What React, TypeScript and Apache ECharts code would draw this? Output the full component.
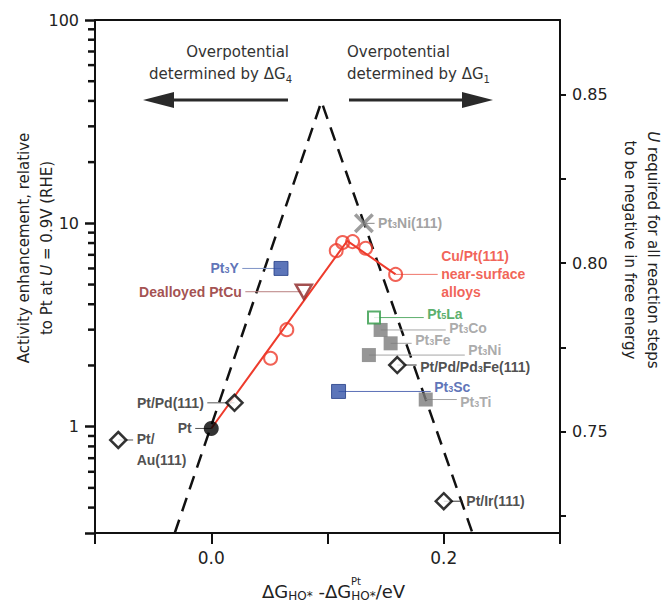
import React, { useEffect, useRef } from 'react';
import * as echarts from 'echarts';

const SANS = '"DejaVu Sans", Verdana, sans-serif';
const ARIAL = '"Liberation Sans", Arial, Helvetica, sans-serif';

// ---------- axes ----------
const xMin = -0.1;
const xMax = 0.3;
const xStep = 0.1;
const xLabelValues = [0.0, 0.2];
const actMin = 0.3;
const actMax = 100;
const actLabelValues = [1, 10, 100];
const actMinorValues = [0.4, 0.5, 0.6, 0.7, 0.8, 0.9, 2, 3, 4, 5, 6, 7, 8, 9, 20, 30, 40, 50, 60, 70, 80, 90];
const uMin = 0.72;
const uMax = 0.872;
const uTickValues = [0.725, 0.75, 0.775, 0.8, 0.825, 0.85];
const uLabelValues = [0.75, 0.8, 0.85];

// ---------- data ----------
const volcanoX = [-0.0314, 0.0948, 0.2247];
const volcanoY = [0.3, 39.7, 0.3];

const cuPtX = [0.051, 0.065, 0.1075, 0.113, 0.1216, 0.1328, 0.1586];
const cuPtY = [2.17, 3.0, 7.34, 8.04, 8.13, 7.54, 5.61];
const cuPtTrendX = [0.0, 0.117, 0.1586];
const cuPtTrendY = [0.98, 8.2, 5.61];

const ptNames = ['Pt'];
const ptX = [0.0];
const ptY = [0.98];

const monolayerNames = ['Pt/Pd(111)', 'Pt/Au(111)', 'Pt/Pd/Pd3Fe(111)', 'Pt/Ir(111)'];
const monolayerX = [0.02, -0.08, 0.16, 0.2];
const monolayerY = [1.31, 0.86, 2.01, 0.43];

const blueAlloyNames = ['Pt3Y', 'Pt3Sc'];
const blueAlloyX = [0.06, 0.1095];
const blueAlloyY = [6.0, 1.49];

const grayAlloyNames = ['Pt3Co', 'Pt3Fe', 'Pt3Ni', 'Pt3Ti'];
const grayAlloyX = [0.1457, 0.1543, 0.1356, 0.1845];
const grayAlloyY = [2.99, 2.57, 2.25, 1.36];

const laAlloyNames = ['Pt5La'];
const laAlloyX = [0.14];
const laAlloyY = [3.44];

const singleCrystalNames = ['Pt3Ni(111)'];
const singleCrystalX = [0.1313];
const singleCrystalY = [10.0];

const dealloyedNames = ['Dealloyed PtCu'];
const dealloyedX = [0.0796];
const dealloyedY = [4.61];

// ---------- annotation layout ----------
const BLACK = '#222222';
const BLUE = '#3550a6';
const GRAY = '#959595';
const RED = '#ee3b2c';
const GREEN = '#2f9a46';
const DARKRED = '#8c2424';

const annotations: any[] = [
  { name: 'Pt', side: 'left', to: -0.0138, text: '{b|Pt}', color: BLACK, line: '#555' },
  { name: 'Pt/Pd(111)', side: 'left', to: -0.0034, text: '{b|Pt/Pd(111)}', color: BLACK, line: '#555' },
  { name: 'Pt/Au(111)', side: 'right', to: -0.0672, text: '{b|Pt/}\n{b|Au(111)}', color: BLACK, line: '#555', offset: [0, 10], lh: 21 },
  { name: 'Pt/Pd/Pd3Fe(111)', side: 'right', to: 0.1767, text: '{b|Pt/Pd/Pd}{s|3}{b|Fe(111)}', color: BLACK, line: '#333', offset: [0, 2] },
  { name: 'Pt/Ir(111)', side: 'right', to: 0.2164, text: '{b|Pt/Ir(111)}', color: BLACK, line: '#333' },
  { name: 'Pt3Y', side: 'left', to: 0.0267, text: '{b|Pt}{s|3}{b|Y}', color: BLUE, line: '#7f93c6' },
  { name: 'Pt3Sc', side: 'right', to: 0.1888, text: '{b|Pt}{s|3}{b|Sc}', color: BLUE, line: '#5a6fb6', offset: [0, -4] },
  { name: 'Pt5La', side: 'right', to: 0.1828, text: '{b|Pt}{s|5}{b|La}', color: GREEN, line: '#5cae6c', offset: [0, -4] },
  { name: 'Pt3Co', side: 'right', to: 0.2017, text: '{b|Pt}{s|3}{b|Co}', color: GRAY, line: '#a5a5a5', offset: [0, -2] },
  { name: 'Pt3Fe', side: 'right', to: 0.1724, text: '{b|Pt}{s|3}{b|Fe}', color: GRAY, line: '#a5a5a5', offset: [0, -3] },
  { name: 'Pt3Ni', side: 'right', to: 0.2181, text: '{b|Pt}{s|3}{b|Ni}', color: GRAY, line: '#a5a5a5', offset: [0, -5] },
  { name: 'Pt3Ti', side: 'right', to: 0.2112, text: '{b|Pt}{s|3}{b|Ti}', color: GRAY, line: '#a5a5a5', offset: [0, 2] },
  { name: 'Pt3Ni(111)', side: 'right', to: 0.1405, text: '{b|Pt}{s|3}{b|Ni(111)}', color: '#8a8a8a', line: '#8a8a8a' },
  { name: 'Dealloyed PtCu', side: 'left', to: 0.0293, text: '{b|Dealloyed PtCu}', color: DARKRED, line: '#b98080' },
  { name: 'Cu/Pt(111)', side: 'right', to: 0.1948, text: '{b|Cu/Pt(111)}\n{b|near-surface}\n{b|alloys}', color: RED, line: '#f0766a', lh: 18 },
];

function zip(xs: number[], ys: number[]) {
  return xs.map((x, i) => [x, ys[i]]);
}

function buildLookup() {
  const m: Record<string, number[]> = {};
  const add = (names: string[], xs: number[], ys: number[]) =>
    names.forEach((n, i) => { m[n] = [xs[i], ys[i]]; });
  add(ptNames, ptX, ptY);
  add(monolayerNames, monolayerX, monolayerY);
  add(blueAlloyNames, blueAlloyX, blueAlloyY);
  add(grayAlloyNames, grayAlloyX, grayAlloyY);
  add(laAlloyNames, laAlloyX, laAlloyY);
  add(singleCrystalNames, singleCrystalX, singleCrystalY);
  add(dealloyedNames, dealloyedX, dealloyedY);
  m['Cu/Pt(111)'] = [cuPtX[cuPtX.length - 1], cuPtY[cuPtY.length - 1]];
  return m;
}

function richFor(color: string, lh: number) {
  return {
    b: { fontFamily: ARIAL, fontWeight: 'bold', fontSize: 14, color, lineHeight: lh },
    s: { fontFamily: ARIAL, fontWeight: 'bold', fontSize: 9, color, lineHeight: 6, verticalAlign: 'bottom' },
  };
}

const near = (v: number, list: number[]) => list.find((t) => Math.abs(v - t) < 1e-6);

const sub = (size: number) => ({ fontFamily: SANS, fontSize: size, fill: '#333', lineHeight: size, verticalAlign: 'bottom' });
const normal = (size: number, lh: number, color = '#333') => ({ fontFamily: SANS, fontSize: size, fill: color, lineHeight: lh });

function baseGraphic(): any[] {
  return [
    { id: 'op1', type: 'text', x: 289, y: 52, silent: true, style: { text: 'Overpotential', font: `15px ${SANS}`, fill: '#333', align: 'right', verticalAlign: 'middle' } },
    {
      id: 'dt4', type: 'text', x: 292, y: 74, silent: true,
      style: { text: '{n|determined by ΔG}{s|4}', rich: { n: normal(15, 20), s: sub(10) }, align: 'right', verticalAlign: 'middle' },
    },
    { id: 'op2', type: 'text', x: 347, y: 52, silent: true, style: { text: 'Overpotential', font: `15px ${SANS}`, fill: '#333', align: 'left', verticalAlign: 'middle' } },
    {
      id: 'dt1', type: 'text', x: 347, y: 74, silent: true,
      style: { text: '{n|determined by ΔG}{s|1}', rich: { n: normal(15, 20), s: sub(10) }, align: 'left', verticalAlign: 'middle' },
    },
    { id: 'al', type: 'line', silent: true, shape: { x1: 288, y1: 100, x2: 168, y2: 100 }, style: { stroke: '#2a2a2a', lineWidth: 3 } },
    { id: 'ah', type: 'polygon', silent: true, shape: { points: [[143, 100], [174, 92], [174, 108]] }, style: { fill: '#2a2a2a' } },
    { id: 'bl', type: 'line', silent: true, shape: { x1: 349, y1: 100, x2: 468, y2: 100 }, style: { stroke: '#2a2a2a', lineWidth: 3 } },
    { id: 'bh', type: 'polygon', silent: true, shape: { points: [[493, 100], [462, 92], [462, 108]] }, style: { fill: '#2a2a2a' } },
    {
      id: 'lt', type: 'text', x: 35, y: 248, rotation: Math.PI / 2, silent: true,
      style: {
        text: '{n|Activity enhancement, relative}\n{n|to Pt at }{i|U}{n| = 0.9V (RHE)}',
        rich: {
          n: normal(15, 23, '#222'),
          i: { fontFamily: SANS, fontSize: 15, fontStyle: 'italic', fill: '#222', lineHeight: 23 },
        },
        align: 'center', verticalAlign: 'middle',
      },
    },
    {
      id: 'rt', type: 'text', x: 641, y: 250, rotation: -Math.PI / 2, silent: true,
      style: {
        text: '{i|U}{n| required for all reaction steps}\n{n|to be negative in free energy}',
        rich: {
          n: normal(15, 23, '#222'),
          i: { fontFamily: SANS, fontSize: 15, fontStyle: 'italic', fill: '#222', lineHeight: 23 },
        },
        align: 'center', verticalAlign: 'middle',
      },
    },
    {
      id: 'xt', type: 'text', x: 262, y: 591, silent: true,
      style: {
        text: '{n|ΔG}{s|HO*}{n| -ΔG}{s|HO*}{n|/eV}',
        rich: { n: normal(18, 22, '#222'), s: { fontFamily: SANS, fontSize: 12, fill: '#222', lineHeight: 11, verticalAlign: 'bottom' } },
        align: 'left', verticalAlign: 'middle',
      },
    },
    { id: 'xtp', type: 'text', x: 351, y: 581, silent: true, style: { text: 'Pt', font: `10px ${SANS}`, fill: '#222', align: 'left', verticalAlign: 'middle' } },
  ];
}

function buildOption() {
  const lookup = buildLookup();

  const leaderSeries = annotations.map((a) => {
    const p = lookup[a.name];
    return {
      type: 'line',
      silent: true,
      xAxisIndex: 0,
      yAxisIndex: 0,
      z: 3,
      symbol: 'none',
      data: [[p[0], p[1]], [a.to, p[1]]],
      lineStyle: { color: a.line, width: 1 },
    };
  });

  const anchorSeries = {
    type: 'scatter',
    silent: true,
    z: 20,
    symbol: 'circle',
    symbolSize: 1,
    itemStyle: { color: 'rgba(0,0,0,0)' },
    data: annotations.map((a) => {
      const p = lookup[a.name];
      return {
        value: [a.to, p[1]],
        label: {
          show: true,
          position: a.side,
          distance: 3,
          offset: a.offset || [0, 0],
          formatter: a.text,
          align: a.side === 'left' ? 'right' : 'left',
          rich: richFor(a.color, a.lh || 13),
        },
      };
    }),
  };

  const xPath = 'path://M0,2.5 L2.5,0 L10,7.5 L17.5,0 L20,2.5 L12.5,10 L20,17.5 L17.5,20 L10,12.5 L2.5,20 L0,17.5 L7.5,10 Z';

  return {
    animation: false,
    backgroundColor: '#ffffff',
    textStyle: { fontFamily: SANS },
    grid: { left: 95, right: 105, top: 20, bottom: 69, containLabel: false },
    xAxis: [
      {
        type: 'value',
        min: xMin,
        max: xMax,
        interval: xStep,
        position: 'bottom',
        axisLine: { show: true, onZero: false, lineStyle: { color: '#111', width: 2 } },
        axisTick: { show: true, inside: false, length: 11, lineStyle: { color: '#111', width: 2 } },
        axisLabel: {
          margin: 16,
          fontSize: 17,
          color: '#222',
          fontFamily: SANS,
          formatter: (v: number) => {
            const t = near(v, xLabelValues);
            return t === undefined ? '' : t.toFixed(1);
          },
        },
        splitLine: { show: false },
      },
      {
        type: 'value',
        min: xMin,
        max: xMax,
        interval: xStep,
        position: 'top',
        axisLine: { show: true, onZero: false, lineStyle: { color: '#111', width: 2 } },
        axisTick: { show: false },
        axisLabel: { show: false },
        splitLine: { show: false },
      },
    ],
    yAxis: [
      {
        type: 'log',
        logBase: 10,
        min: actMin,
        max: actMax,
        position: 'left',
        axisLine: { show: true, onZero: false, lineStyle: { color: '#111', width: 2 } },
        axisTick: { show: true, length: 10, lineStyle: { color: '#111', width: 2.5 } },
        axisLabel: {
          margin: 16,
          fontSize: 16,
          color: '#222',
          fontFamily: SANS,
          formatter: (v: number) => {
            const t = near(v, actLabelValues);
            return t === undefined ? '' : String(t);
          },
        },
        splitLine: { show: false },
        minorTick: { show: false },
      },
      {
        type: 'value',
        min: uMin,
        max: uMax,
        position: 'right',
        axisLine: { show: true, onZero: false, lineStyle: { color: '#111', width: 2 } },
        axisTick: { show: true, length: 6, customValues: uTickValues, lineStyle: { color: '#111', width: 2 } },
        axisLabel: {
          margin: 12,
          fontSize: 16,
          color: '#222',
          fontFamily: SANS,
          customValues: uLabelValues,
          formatter: (v: number) => v.toFixed(2),
        },
        splitLine: { show: false },
      },
    ],
    series: [
      {
        type: 'line',
        name: 'volcano',
        silent: true,
        z: 1,
        symbol: 'none',
        data: zip(volcanoX, volcanoY),
        lineStyle: { color: '#111', width: 2.5, type: [14, 9] },
      },
      {
        type: 'line',
        name: 'Cu/Pt trend',
        silent: true,
        z: 2,
        symbol: 'none',
        data: zip(cuPtTrendX, cuPtTrendY),
        lineStyle: { color: RED, width: 2 },
      },
      ...leaderSeries,
      {
        type: 'scatter',
        name: 'Cu/Pt(111) near-surface alloys',
        silent: true,
        z: 6,
        symbol: 'circle',
        symbolSize: 13,
        data: zip(cuPtX, cuPtY),
        itemStyle: { color: 'rgba(255,255,255,0)', borderColor: RED, borderWidth: 2 },
      },
      {
        type: 'scatter',
        name: 'Pt',
        silent: true,
        z: 7,
        symbol: 'circle',
        symbolSize: 15,
        data: zip(ptX, ptY),
        itemStyle: { color: '#000' },
      },
      {
        type: 'scatter',
        name: 'monolayers',
        silent: true,
        z: 7,
        symbol: 'diamond',
        symbolSize: 16,
        data: zip(monolayerX, monolayerY),
        itemStyle: { color: '#fff', borderColor: '#000', borderWidth: 2.5 },
      },
      {
        type: 'scatter',
        name: 'gray alloys',
        silent: true,
        z: 7,
        symbol: 'rect',
        symbolSize: 14,
        data: zip(grayAlloyX, grayAlloyY),
        itemStyle: { color: '#7c7c7c' },
      },
      {
        type: 'scatter',
        name: 'Pt5La',
        silent: true,
        z: 8,
        symbol: 'rect',
        symbolSize: 12,
        data: zip(laAlloyX, laAlloyY),
        itemStyle: { color: '#fff', borderColor: GREEN, borderWidth: 2 },
      },
      {
        type: 'scatter',
        name: 'blue alloys',
        silent: true,
        z: 7,
        symbol: 'rect',
        symbolSize: 14,
        data: zip(blueAlloyX, blueAlloyY),
        itemStyle: { color: '#3352a8', borderColor: '#233d86', borderWidth: 1 },
      },
      {
        type: 'scatter',
        name: 'Pt3Ni(111)',
        silent: true,
        z: 7,
        symbol: xPath,
        symbolSize: 20,
        data: zip(singleCrystalX, singleCrystalY),
        itemStyle: { color: '#858585' },
      },
      {
        type: 'scatter',
        name: 'Dealloyed PtCu',
        silent: true,
        z: 7,
        symbol: 'triangle',
        symbolRotate: 180,
        symbolSize: [16, 14],
        data: zip(dealloyedX, dealloyedY),
        itemStyle: { color: '#fff', borderColor: DARKRED, borderWidth: 2.5 },
      },
      anchorSeries,
    ],
    graphic: baseGraphic(),
  };
}

export default function App() {
  const ref = useRef<HTMLDivElement>(null);
  useEffect(() => {
    if (!ref.current) return;
    const chart = echarts.init(ref.current, null, { renderer: 'svg' });
    chart.setOption(buildOption() as any);
    // minor ticks of the logarithmic activity axis, positioned through the axis scale
    const minorTicks = actMinorValues
      .map((v, i) => {
        const pt = chart.convertToPixel({ xAxisIndex: 0, yAxisIndex: 0 } as any, [xMin, v]) as number[];
        if (!pt || !isFinite(pt[0]) || !isFinite(pt[1])) return null;
        return {
          id: 'mt' + i,
          type: 'rect',
          silent: true,
          z: 50,
          shape: { x: pt[0] - 7, y: pt[1] - 1.25, width: 7, height: 2.5 },
          style: { fill: '#111' },
        };
      })
      .filter(Boolean);
    chart.setOption({ graphic: [...baseGraphic(), ...minorTicks] } as any);
    return () => chart.dispose();
  }, []);
  return (
    <div
      ref={ref}
      style={{ position: 'absolute', left: 0, top: 0, width: 665, height: 602, background: '#fff' }}
    />
  );
}
